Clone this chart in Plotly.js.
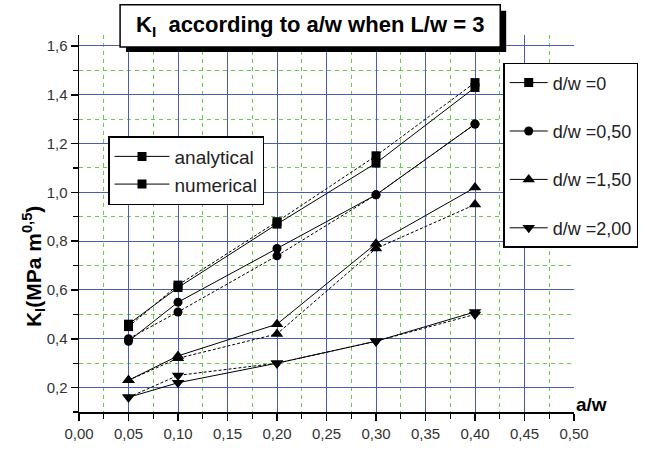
<!DOCTYPE html>
<html>
<head>
<meta charset="utf-8">
<script src="https://cdn.plot.ly/plotly-3.0.1.min.js"></script>
<style>html,body{margin:0;padding:0;background:#fff;}#chart{width:653px;height:450px;}</style>
</head>
<body>
<div id="chart"></div>
<script>
// ---- data ----
const aw = [0.05, 0.10, 0.20, 0.30, 0.40];
const seriesNames = ['d/w =0', 'd/w =0,50', 'd/w =1,50', 'd/w =2,00'];
const analytical_dw0   = [0.46, 0.61, 0.87, 1.12, 1.43];
const numerical_dw0    = [0.45, 0.62, 0.88, 1.15, 1.45];
const analytical_dw050 = [0.39, 0.55, 0.77, 0.99, 1.28];
const numerical_dw050  = [0.40, 0.51, 0.74, 0.99, 1.28];
const analytical_dw150 = [0.23, 0.33, 0.46, 0.79, 1.02];
const numerical_dw150  = [0.23, 0.32, 0.42, 0.77, 0.95];
const analytical_dw200 = [0.16, 0.22, 0.30, 0.39, 0.51];
const numerical_dw200  = [0.16, 0.25, 0.30, 0.39, 0.50];
const methodNames = ['analytical', 'numerical'];
const xTickVals = [0, 0.05, 0.10, 0.15, 0.20, 0.25, 0.30, 0.35, 0.40, 0.45, 0.50];
const yTickVals = [0.2, 0.4, 0.6, 0.8, 1.0, 1.2, 1.4, 1.6];

const analyticalSets = [analytical_dw0, analytical_dw050, analytical_dw150, analytical_dw200];
const numericalSets = [numerical_dw0, numerical_dw050, numerical_dw150, numerical_dw200];
const symbols = ['square', 'circle', 'triangle-up', 'triangle-down'];
const sizes = [9, 9, 11, 11];

const traces = [];
for (let i = 0; i < 4; i++) {
  traces.push({
    x: aw, y: analyticalSets[i], type: 'scatter', mode: 'lines+markers',
    name: seriesNames[i], legend: 'legend2', legendgroup: 'g' + i,
    line: {color: '#000', width: 1},
    marker: {symbol: symbols[i], size: sizes[i], color: '#000'}
  });
  traces.push({
    x: aw, y: numericalSets[i], type: 'scatter', mode: 'lines+markers',
    name: seriesNames[i] + ' num', showlegend: false,
    line: {color: '#000', width: 1, dash: '3px,2px'},
    marker: {symbol: symbols[i], size: sizes[i], color: '#000'}
  });
}
// legend-only entries for method
traces.push({x: [null], y: [null], type: 'scatter', mode: 'lines+markers', name: methodNames[0],
  legend: 'legend', legendgroup: 'm0', line: {color: '#000', width: 1},
  marker: {symbol: 'square', size: 9, color: '#000'}});
traces.push({x: [null], y: [null], type: 'scatter', mode: 'lines+markers', name: methodNames[1],
  legend: 'legend', legendgroup: 'm1', line: {color: '#000', width: 1},
  marker: {symbol: 'square', size: 9, color: '#000'}});

const font = 'Liberation Sans, Arial, sans-serif';
const layout = {
  width: 653, height: 450,
  margin: {l: 79, r: 79, t: 35, b: 38},
  paper_bgcolor: '#fff', plot_bgcolor: '#fff',
  separators: ', ',
  font: {family: font, size: 15, color: '#333'},
  xaxis: {
    range: [0, 0.5], tickvals: xTickVals, tickformat: '.2f',
    showline: true, linecolor: '#000', linewidth: 1.5, zeroline: false,
    ticks: 'outside', ticklen: 7, tickwidth: 1.5, tickcolor: '#000',
    showgrid: true, gridcolor: '#4a5db5', gridwidth: 1,
    tickfont: {size: 15, color: '#333'},
    minor: {dtick: 0.025, tick0: 0, showgrid: true, gridcolor: '#66cc44', griddash: '4px,4px', gridwidth: 1,
            ticks: 'outside', ticklen: 5, tickwidth: 1.2, tickcolor: '#000'}
  },
  yaxis: {
    range: [0.1, 1.645], tickvals: yTickVals, tickformat: '.1f',
    showline: true, linecolor: '#000', linewidth: 1.5, zeroline: false,
    ticks: 'outside', ticklen: 7, tickwidth: 1.5, tickcolor: '#000',
    showgrid: true, gridcolor: '#4a5db5', gridwidth: 1,
    tickfont: {size: 15, color: '#333'},
    minor: {dtick: 0.1, tick0: 0, showgrid: true, gridcolor: '#66cc44', griddash: '4px,4px', gridwidth: 1,
            ticks: 'outside', ticklen: 5, tickwidth: 1.2, tickcolor: '#000'}
  },
  legend: {
    x: 0.0586, y: 0.732, xanchor: 'left', yanchor: 'top',
    bgcolor: '#fff', bordercolor: '#000', borderwidth: 1.5,
    font: {family: font, size: 19, color: '#222'}, tracegroupgap: 0, itemwidth: 55
  },
  legend2: {
    x: 0.857, y: 0.926, xanchor: 'left', yanchor: 'top',
    bgcolor: '#fff', bordercolor: '#000', borderwidth: 1.5,
    font: {family: font, size: 18, color: '#222'}, tracegroupgap: 22, itemwidth: 38
  },
  shapes: [
    {type: 'rect', xref: 'paper', yref: 'paper', x0: 0.095, x1: 0.863, y0: 0.955, y1: 1.064,
     fillcolor: '#000', line: {width: 0}, layer: 'above'},
    {type: 'rect', xref: 'paper', yref: 'paper', x0: 0.083, x1: 0.851, y0: 0.968, y1: 1.080,
     fillcolor: '#fff', line: {color: '#000', width: 1.5}, layer: 'above'}
  ],
  annotations: [
    {text: '<b>K<sub>I</sub>  according to a/w when L/w = 3</b>', xref: 'paper', yref: 'paper',
     x: 0.467, y: 1.024, xanchor: 'center', yanchor: 'middle', showarrow: false,
     font: {family: font, size: 22, color: '#000'}},
    {text: '<b>a/w</b>', xref: 'paper', yref: 'paper', x: 1.036, y: 0.02,
     xanchor: 'center', yanchor: 'middle', showarrow: false,
     font: {family: font, size: 19, color: '#000'}},
    {text: '<b>K<sub>I</sub>(MPa m<sup>0,5</sup>)</b>', xref: 'paper', yref: 'paper', x: -0.093, y: 0.387,
     xanchor: 'center', yanchor: 'middle', textangle: -90, showarrow: false,
     font: {family: font, size: 21, color: '#000'}}
  ]
};

Plotly.newPlot('chart', traces, layout, {displayModeBar: false, staticPlot: true});
</script>
</body>
</html>
